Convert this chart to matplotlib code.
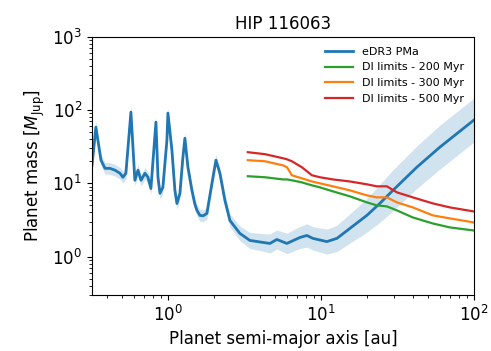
import numpy as np
import matplotlib
matplotlib.use("Agg")
import matplotlib.pyplot as plt

# eDR3 PMa sensitivity curve
pma_sma = [0.319, 0.338, 0.365, 0.388, 0.418, 0.451, 0.486, 0.508, 0.531, 0.573,
           0.608, 0.637, 0.667, 0.708, 0.740, 0.774, 0.835, 0.861, 0.887, 0.927,
           0.985, 1.0, 1.062, 1.111, 1.145, 1.198, 1.253, 1.291, 1.351, 1.435,
           1.50, 1.548, 1.619, 1.70, 1.798, 1.940, 2.060, 2.187, 2.358, 2.543,
           2.955, 3.435, 4.178, 4.643, 5.154, 5.992, 7.29, 8.10, 8.87, 10.94,
           12.73, 15.47, 19.99, 24.3, 29.6, 42.4, 59.9, 100.0]
pma_mass = [17.6, 58.5, 20.7, 16.0, 16.0, 15.1, 13.7, 12.1, 13.7, 93.9,
            11.0, 15.1, 11.0, 13.7, 12.1, 8.5, 68.5, 12.1, 7.3, 8.8,
            38.8, 91.0, 28.3, 8.0, 5.3, 7.3, 22.7, 41.3, 16.6, 8.0,
            5.2, 4.27, 3.65, 3.60, 3.88, 10.0, 20.7, 13.7, 5.85, 3.11,
            2.07, 1.66, 1.56, 1.51, 1.71, 1.51, 1.82, 1.94, 1.77, 1.60,
            1.77, 2.42, 3.65, 5.32, 8.02, 16.6, 31.1, 72.9]
# half-width of the uncertainty band (dex)
pma_err_dex = [0.08] * 36 + [0.08, 0.08, 0.09, 0.09, 0.10, 0.11,
                             0.12, 0.13, 0.13, 0.14, 0.15, 0.16, 0.16, 0.17,
                             0.18, 0.20, 0.23, 0.26, 0.28, 0.29, 0.30, 0.30]

# Direct imaging limits
di_sma = [3.33, 4.31, 5.65, 6.00, 6.46, 7.51, 8.73, 9.85, 11.98, 15.47,
          19.99, 23.2, 27.0, 31.4, 39.9, 53.9, 69.7, 100.0]
di_200 = [12.5, 12.1, 11.3, 11.3, 11.0, 10.3, 9.39, 8.81, 7.77, 6.64,
          5.49, 5.00, 4.84, 4.27, 3.42, 2.83, 2.50, 2.27]
di_300 = [20.7, 20.0, 17.6, 16.6, 12.9, 11.7, 10.6, 10.0, 9.10, 8.02,
          6.85, 6.43, 6.43, 5.49, 4.69, 3.65, 3.32, 2.92]
di_500 = [26.6, 25.0, 22.0, 21.3, 20.0, 16.6, 12.9, 12.1, 11.3, 10.6,
          9.69, 9.10, 9.10, 7.53, 6.43, 5.32, 4.69, 4.13]

fig = plt.figure(figsize=(4.91, 3.51), dpi=100)
ax = fig.add_axes([0.187, 0.160, 0.778, 0.735])

m = np.array(pma_mass)
e = 10 ** np.array(pma_err_dex)
ax.fill_between(pma_sma, m / e, m * e, color="tab:blue", alpha=0.2, lw=0)
ax.plot(pma_sma, pma_mass, color="tab:blue", lw=2.0, label="eDR3 PMa")
ax.plot(di_sma, di_200, color="tab:green", lw=1.6, label="DI limits - 200 Myr")
ax.plot(di_sma, di_300, color="tab:orange", lw=1.6, label="DI limits - 300 Myr")
ax.plot(di_sma, di_500, color="tab:red", lw=1.6, label="DI limits - 500 Myr")

ax.set_xscale("log")
ax.set_yscale("log")
ax.set_xlim(0.318, 100)
ax.set_ylim(0.3, 1000)
ax.tick_params(labelsize=12)
ax.set_xlabel("Planet semi-major axis [au]", fontsize=12)
ax.set_ylabel(r"Planet mass [$M_{\rm Jup}$]", fontsize=12)
ax.set_title("HIP 116063", fontsize=12)
ax.legend(loc="upper right", frameon=False, fontsize=8, handlelength=2.5)

fig.savefig("out.png", dpi=100)
